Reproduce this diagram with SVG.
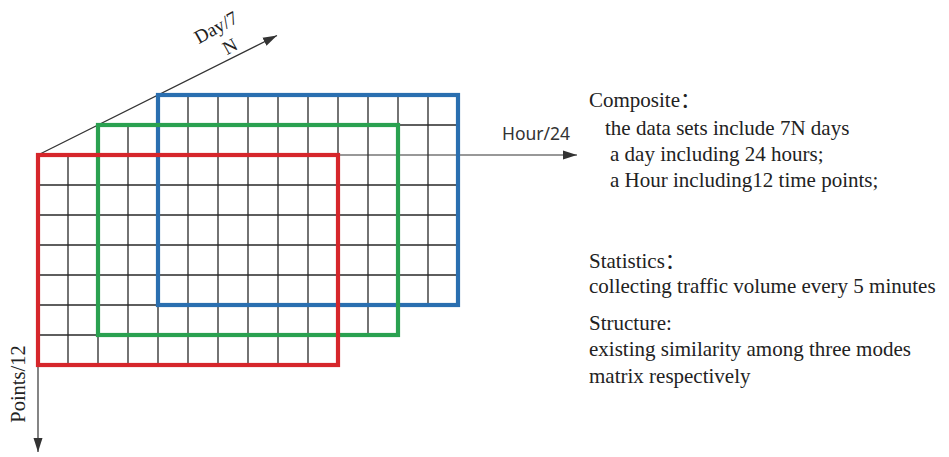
<svg xmlns="http://www.w3.org/2000/svg" width="949" height="457" viewBox="0 0 949 457">
<defs>
<style>
.grid{stroke:#2a2a2a;stroke-width:1.3;fill:none}
.axis{stroke:#333;stroke-width:1.2;fill:none}
.frame{fill:none;stroke-width:4.2;stroke-linejoin:miter}
.serif{font-family:"Liberation Serif","Times New Roman",serif;fill:#222}
.sans{font-family:"Noto Sans","Liberation Sans",sans-serif;fill:#333}
.info{font-family:"Liberation Serif","Times New Roman","Noto Sans CJK SC",serif;font-size:21px;fill:#222}
</style>
<marker id="arr" markerUnits="userSpaceOnUse" markerWidth="16" markerHeight="10" refX="14" refY="5" orient="auto">
<path d="M0,0.5 L14,5 L0,9.5 Z" fill="#333"/>
</marker>
</defs>
<rect width="949" height="457" fill="#fff"/>
<g id="grid">
<path class="grid" d="M98,125H458 M38,185H458 M38,215H458 M38,245H458 M38,275H458 M38,305H458 M38,335H398 M38,365H338"/>
<path class="grid" d="M68,155V365 M98,125V365 M128,125V365 M158,95V365 M188,95V365 M218,95V365 M248,95V365 M278,95V365 M308,95V365 M338,95V365 M368,95V335 M398,95V335 M428,95V305"/>
</g>
<g id="connectors">
<line class="axis" x1="38" y1="155" x2="577" y2="155" marker-end="url(#arr)"/>
<line class="axis" x1="38" y1="155" x2="277" y2="35.5" marker-end="url(#arr)"/>
<line class="axis" x1="38" y1="365" x2="38" y2="452" marker-end="url(#arr)"/>
</g>
<g id="blue-matrix"><rect class="frame" x="158" y="95" width="300" height="210" stroke="#2a6fb0"/></g>
<g id="green-matrix"><rect class="frame" x="98" y="125" width="300" height="210" stroke="#2aa150"/></g>
<g id="red-matrix"><rect class="frame" x="38" y="155" width="300" height="210" stroke="#d6262b"/></g>
<g id="axis-labels">
<text class="serif" font-size="19" text-anchor="middle" transform="translate(219,33) rotate(-29)">Day/7</text>
<text class="serif" font-size="19" text-anchor="middle" transform="translate(233,52) rotate(-29)">N</text>
<text class="serif" font-size="20.5" text-anchor="middle" transform="translate(25,384) rotate(-90)">Points/12</text>
<text class="sans" font-size="17.5" x="536" y="140" text-anchor="middle">Hour/24</text>
</g>
<g id="description">
<text class="info" x="589" y="107">Composite：</text>
<text class="info" x="605" y="135">the data sets include 7N days</text>
<text class="info" x="610" y="161">a day including 24 hours;</text>
<text class="info" x="610" y="187">a Hour including12 time points;</text>
<text class="info" x="589" y="268">Statistics：</text>
<text class="info" x="589" y="293">collecting traffic volume every 5 minutes</text>
<text class="info" x="589" y="330">Structure:</text>
<text class="info" x="589" y="356">existing similarity among three modes</text>
<text class="info" x="589" y="383">matrix respectively</text>
</g>
</svg>
